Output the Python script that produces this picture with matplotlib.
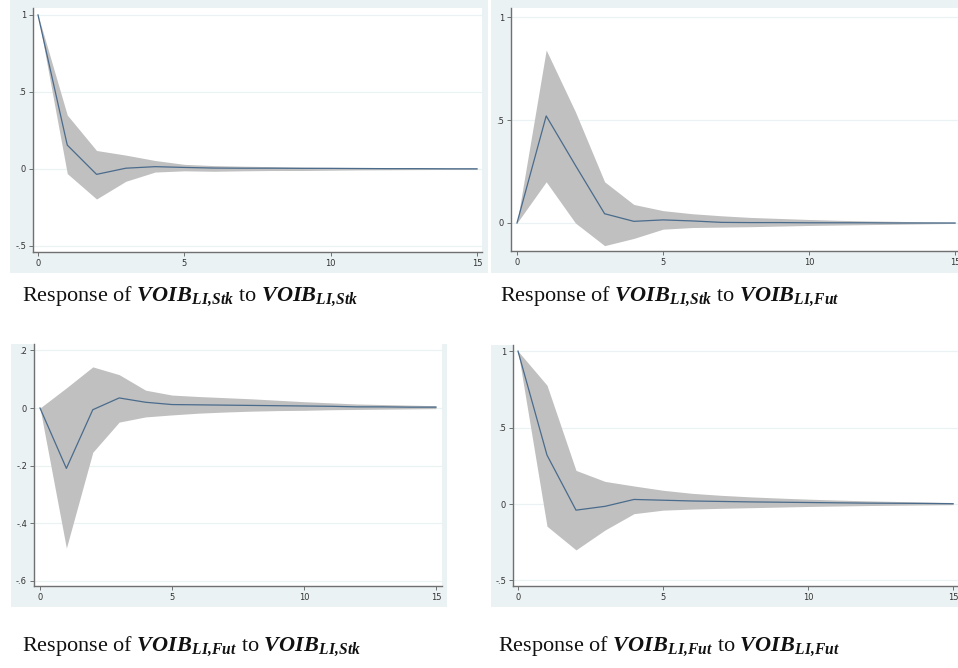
import matplotlib
matplotlib.use("Agg")
import matplotlib.pyplot as plt
from matplotlib.patches import Rectangle

plt.rcParams['mathtext.fontset'] = 'custom'
plt.rcParams['mathtext.rm'] = 'Liberation Serif'
plt.rcParams['mathtext.bf'] = 'Liberation Serif:bold:italic'

steps = list(range(16))

# impulse responses with confidence bands
irf_ss = [1, 0.155, -0.035, 0.005, 0.015, 0.01, 0.006, 0.005, 0.005, 0.004, 0.004, 0.003, 0.002, 0.002, 0.001, 0.001]
hi_ss = [1, 0.35, 0.12, 0.09, 0.055, 0.03, 0.022, 0.018, 0.015, 0.012, 0.01, 0.009, 0.008, 0.007, 0.006, 0.005]
lo_ss = [1, -0.03, -0.195, -0.08, -0.02, -0.012, -0.015, -0.012, -0.01, -0.01, -0.008, -0.006, -0.005, -0.004, -0.003, -0.003]

irf_sf = [0, 0.52, 0.28, 0.045, 0.008, 0.015, 0.01, 0.003, 0.002, 0.002, 0.001, 0.001, 0.001, 0.0, 0.0, 0.0]
hi_sf = [0, 0.84, 0.54, 0.2, 0.09, 0.06, 0.045, 0.035, 0.027, 0.022, 0.017, 0.013, 0.01, 0.008, 0.005, 0.003]
lo_sf = [0, 0.2, 0.0, -0.11, -0.075, -0.03, -0.022, -0.02, -0.018, -0.015, -0.012, -0.01, -0.008, -0.006, -0.004, -0.002]

irf_fs = [0, -0.21, -0.006, 0.035, 0.02, 0.012, 0.011, 0.01, 0.009, 0.008, 0.007, 0.006, 0.004, 0.004, 0.003, 0.003]
hi_fs = [0, 0.07, 0.143, 0.116, 0.062, 0.045, 0.04, 0.036, 0.032, 0.027, 0.022, 0.018, 0.014, 0.012, 0.01, 0.008]
lo_fs = [0, -0.487, -0.154, -0.049, -0.031, -0.024, -0.018, -0.014, -0.011, -0.009, -0.008, -0.006, -0.005, -0.004, -0.003, -0.002]

irf_ff = [1, 0.32, -0.04, -0.015, 0.03, 0.025, 0.02, 0.017, 0.014, 0.012, 0.01, 0.008, 0.006, 0.005, 0.004, 0.002]
hi_ff = [1, 0.777, 0.22, 0.148, 0.118, 0.09, 0.07, 0.057, 0.047, 0.039, 0.032, 0.026, 0.021, 0.017, 0.013, 0.01]
lo_ff = [1, -0.145, -0.3, -0.17, -0.063, -0.04, -0.033, -0.028, -0.024, -0.02, -0.016, -0.013, -0.01, -0.008, -0.006, -0.004]

yticks_a = [-0.5, 0, 0.5, 1]
ylabels_a = ["-.5", "0", ".5", "1"]
yticks_b = [0, 0.5, 1]
ylabels_b = ["0", ".5", "1"]
yticks_c = [-0.6, -0.4, -0.2, 0, 0.2]
ylabels_c = ["-.6", "-.4", "-.2", "0", ".2"]
xticks = [0, 5, 10, 15]

captions = [
    r"Response of $\mathbf{VOIB}_{\mathbf{LI,\!Stk}}$ to $\mathbf{VOIB}_{\mathbf{LI,\!Stk}}$",
    r"Response of $\mathbf{VOIB}_{\mathbf{LI,\!Stk}}$ to $\mathbf{VOIB}_{\mathbf{LI,\!Fut}}$",
    r"Response of $\mathbf{VOIB}_{\mathbf{LI,\!Fut}}$ to $\mathbf{VOIB}_{\mathbf{LI,\!Stk}}$",
    r"Response of $\mathbf{VOIB}_{\mathbf{LI,\!Fut}}$ to $\mathbf{VOIB}_{\mathbf{LI,\!Fut}}$",
]

W, H = 958, 668
fig = plt.figure(figsize=(W / 100, H / 100), dpi=100)
BG = "#eaf2f3"


def box(x0, y0, x1, y1):
    # pixel box (top-down) -> figure fraction rect
    return [x0 / W, 1 - y1 / H, (x1 - x0) / W, (y1 - y0) / H]


def panel(bg, ax_px, xlim, ylim, irf, hi, lo, yt, yl):
    r = box(*bg)
    fig.patches.append(Rectangle((r[0], r[1]), r[2], r[3], transform=fig.transFigure,
                                 facecolor=BG, edgecolor="none", zorder=-10))
    ax = fig.add_axes(box(*ax_px))
    ax.set_zorder(1)
    ax.set_facecolor("white")
    for t in yt:
        ax.axhline(t, color=BG, lw=0.9, zorder=0)
    ax.fill_between(steps, lo, hi, color="#c0c0c0", lw=0, zorder=1)
    ax.plot(steps, irf, color="#4a6b8c", lw=0.9, zorder=2)
    ax.set_xlim(*xlim)
    ax.set_ylim(*ylim)
    ax.set_xticks(xticks)
    ax.set_yticks(yt)
    ax.set_yticklabels(yl)
    for s in ["top", "right"]:
        ax.spines[s].set_visible(False)
    for s in ["left", "bottom"]:
        ax.spines[s].set_color("#707070")
        ax.spines[s].set_linewidth(1.0)
    ax.tick_params(length=3, width=0.7, color="#707070", labelsize=6,
                   labelcolor="#333333", pad=2)
    return ax


panel((10, 0, 488, 273), (33, 8, 482, 252), (-0.171, 15.17), (-0.539, 1.045),
      irf_ss, hi_ss, lo_ss, yticks_a, ylabels_a)
panel((491, 0, 958, 273), (511, 8, 958, 251), (-0.205, 15.1), (-0.136, 1.044),
      irf_sf, hi_sf, lo_sf, yticks_b, ylabels_b)
panel((11, 344, 447, 607), (34, 344, 442, 586), (-0.227, 15.23), (-0.619, 0.2226),
      irf_fs, hi_fs, lo_fs, yticks_c, ylabels_c)
panel((491, 345, 958, 607), (513, 345, 958, 586), (-0.172, 15.17), (-0.536, 1.04),
      irf_ff, hi_ff, lo_ff, yticks_a, ylabels_a)

cap_pos = [(22, 297), (500, 297), (22, 647), (498, 647)]
for (cx, cy), txt in zip(cap_pos, captions):
    fig.text(cx / W, 1 - cy / H, txt, ha="left", va="center", fontsize=16,
             family="Liberation Serif", color="#111111")

fig.savefig("out.png", dpi=100)
